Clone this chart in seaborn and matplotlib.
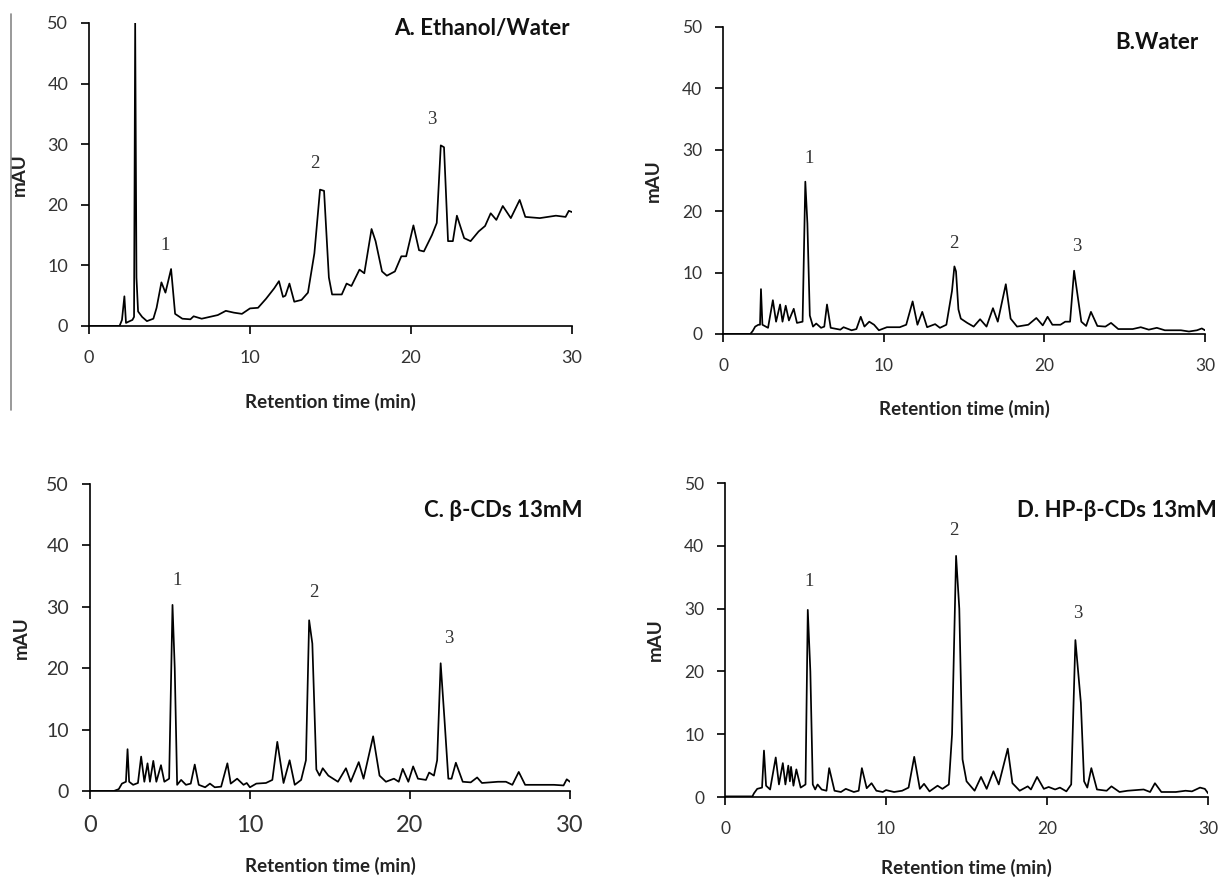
import numpy as np
import pandas as pd
import matplotlib.pyplot as plt
from matplotlib.lines import Line2D
import seaborn as sns

sns.set_style("ticks")
plt.rcParams['font.family'] = ['Lato', 'DejaVu Sans']

# ---- chromatogram traces (time in min, signal in mAU) ----
tA = [0, 1.9, 2.05, 2.2, 2.3, 2.45, 2.7, 2.8, 2.87, 2.95,
      3.05, 3.3, 3.6, 4.0, 4.2, 4.5, 4.75, 5.1, 5.35, 5.8,
      6.3, 6.5, 7.0, 7.5, 8.0, 8.5, 9.0, 9.5, 10.0, 10.5,
      11.0, 11.5, 11.8, 12.05, 12.2, 12.45, 12.75, 13.2, 13.6, 14.0,
      14.35, 14.6, 14.9, 15.1, 15.7, 16.0, 16.3, 16.8, 17.1, 17.55,
      17.8, 18.2, 18.5, 19.0, 19.4, 19.7, 20.15, 20.5, 20.8, 21.3,
      21.6, 21.85, 22.05, 22.3, 22.6, 22.85, 23.3, 23.7, 24.2, 24.6,
      24.95, 25.3, 25.7, 26.2, 26.75, 27.1, 28.0, 29.0, 29.6, 29.8,
      30.0]
vA = [0, 0, 1, 4.9, 0.5, 0.7, 1.0, 1.5, 50, 8,
      2.4, 1.5, 0.8, 1.2, 3.0, 7.2, 5.5, 9.4, 2.0, 1.2,
      1.1, 1.6, 1.2, 1.5, 1.8, 2.5, 2.2, 2.0, 2.9, 3.0,
      4.5, 6.2, 7.4, 4.8, 5.0, 7.0, 4.0, 4.3, 5.5, 12,
      22.5, 22.3, 8, 5.2, 5.2, 7.0, 6.6, 9.3, 8.7, 16,
      14, 9, 8.3, 9.0, 11.5, 11.5, 16.6, 12.5, 12.3, 15,
      17, 29.8, 29.5, 14, 14, 18.2, 14.5, 14, 15.6, 16.5,
      18.6, 17.5, 19.8, 17.8, 20.8, 18, 17.8, 18.2, 18, 19,
      18.8]

tB = [0, 1.7, 1.85, 2.0, 2.2, 2.3, 2.36, 2.45, 2.8, 3.1,
      3.3, 3.55, 3.7, 3.9, 4.1, 4.4, 4.6, 4.95, 5.12, 5.25,
      5.4, 5.6, 5.8, 6.1, 6.3, 6.47, 6.7, 7.3, 7.5, 8.0,
      8.3, 8.57, 8.8, 9.1, 9.4, 9.7, 10.2, 11.0, 11.4, 11.8,
      12.1, 12.4, 12.7, 13.2, 13.5, 13.9, 14.25, 14.4, 14.5, 14.65,
      14.8, 15.2, 15.6, 16.0, 16.4, 16.8, 17.1, 17.6, 17.9, 18.3,
      19.0, 19.5, 19.9, 20.2, 20.5, 21.0, 21.3, 21.6, 21.85, 22.3,
      22.6, 22.9, 23.3, 23.8, 24.15, 24.6, 25.5, 26.0, 26.5, 27.0,
      27.5, 28.5, 29.0, 29.5, 29.8, 30.0]
vB = [0, 0, 0.5, 1.2, 1.5, 1.5, 7.3, 1.5, 1.0, 5.5,
      2.0, 4.8, 2.0, 4.6, 2.2, 4.1, 1.8, 2.0, 24.8, 18,
      3.0, 1.2, 1.7, 1.0, 1.2, 4.8, 1.0, 0.7, 1.1, 0.6,
      0.8, 2.8, 1.2, 2.0, 1.5, 0.6, 1.1, 1.1, 1.5, 5.3,
      1.5, 3.6, 1.1, 1.6, 1.0, 1.5, 7.0, 11.0, 10.2, 4.0,
      2.5, 1.8, 1.2, 2.4, 1.2, 4.2, 2.0, 8.1, 2.5, 1.2,
      1.5, 2.6, 1.4, 2.8, 1.5, 1.5, 2.0, 2.0, 10.3, 2.0,
      1.3, 3.6, 1.3, 1.2, 1.8, 0.8, 0.8, 1.1, 0.7, 1.0,
      0.6, 0.6, 0.4, 0.6, 0.9, 0.6]

tC = [0, 1.5, 1.8, 2.0, 2.25, 2.35, 2.45, 2.7, 3.0, 3.2,
      3.4, 3.6, 3.75, 3.96, 4.15, 4.44, 4.65, 4.95, 5.16, 5.3,
      5.45, 5.7, 6.0, 6.3, 6.55, 6.8, 7.2, 7.5, 7.8, 8.2,
      8.59, 8.8, 9.2, 9.6, 9.8, 10.0, 10.4, 11.0, 11.4, 11.71,
      12.1, 12.48, 12.8, 13.2, 13.5, 13.7, 13.9, 14.15, 14.35, 14.55,
      14.9, 15.5, 16.0, 16.3, 16.8, 17.1, 17.7, 18.1, 18.5, 19.0,
      19.3, 19.55, 19.9, 20.2, 20.5, 21.0, 21.2, 21.5, 21.7, 21.92,
      22.15, 22.4, 22.6, 22.87, 23.3, 23.8, 24.2, 24.5, 25.5, 26.0,
      26.4, 26.8, 27.2, 28.0, 29.0, 29.6, 29.8, 30.0]
vC = [0, 0, 0.3, 1.2, 1.5, 6.8, 1.5, 1.0, 1.3, 5.6,
      1.5, 4.5, 1.5, 4.9, 1.5, 4.2, 1.5, 2.0, 30.3, 20,
      1.0, 1.8, 1.0, 1.2, 4.3, 1.0, 0.6, 1.2, 0.6, 0.7,
      4.5, 1.2, 2.0, 1.0, 1.3, 0.6, 1.2, 1.3, 1.8, 8.0,
      1.3, 5.0, 1.0, 1.8, 5.0, 27.8, 24, 3.5, 2.5, 3.7,
      2.5, 1.5, 3.7, 1.5, 4.7, 2.0, 8.9, 2.5, 1.5, 2.0,
      1.5, 3.6, 1.5, 4.0, 2.0, 1.8, 3.0, 2.5, 5.0, 20.8,
      12, 2.0, 2.0, 4.6, 1.5, 1.4, 2.2, 1.3, 1.5, 1.5,
      1.0, 3.1, 1.0, 1.0, 1.0, 0.9, 1.9, 1.5]

tD = [0, 1.7, 1.8, 2.0, 2.3, 2.42, 2.55, 2.8, 3.15, 3.35,
      3.59, 3.75, 3.93, 4.03, 4.1, 4.25, 4.43, 4.7, 5.0, 5.14,
      5.3, 5.45, 5.6, 5.75, 6.0, 6.3, 6.47, 6.8, 7.2, 7.5,
      8.0, 8.3, 8.5, 8.8, 9.1, 9.4, 9.8, 10.0, 10.5, 11.0,
      11.4, 11.75, 12.1, 12.36, 12.7, 13.2, 13.5, 13.9, 14.1, 14.35,
      14.55, 14.75, 15.0, 15.5, 15.9, 16.25, 16.67, 17.0, 17.56, 17.85,
      18.3, 18.8, 19.0, 19.38, 19.8, 20.1, 20.5, 20.8, 21.2, 21.5,
      21.76, 22.1, 22.3, 22.5, 22.75, 23.1, 23.7, 24.0, 24.5, 25.0,
      26.0, 26.4, 26.7, 27.1, 28.0, 28.6, 29.0, 29.5, 29.8, 30.0]
vD = [0.1, 0.1, 0.6, 1.3, 1.5, 7.4, 1.8, 1.2, 6.3, 2.0,
      5.4, 2.0, 5.0, 2.5, 4.8, 1.8, 4.4, 1.5, 2.0, 29.8,
      20, 2.0, 1.2, 2.0, 1.2, 1.0, 4.6, 1.0, 0.8, 1.3,
      0.8, 1.0, 4.6, 1.4, 2.2, 1.0, 0.8, 1.1, 0.8, 1.0,
      1.5, 6.4, 1.3, 2.1, 0.9, 1.8, 1.3, 2.0, 10, 38.4,
      30, 6, 2.5, 1.0, 3.2, 1.3, 4.1, 2.0, 7.7, 2.2,
      1.0, 1.7, 1.2, 3.2, 1.3, 1.6, 1.2, 1.5, 0.9, 2.0,
      25.0, 15, 2.5, 1.5, 4.6, 1.2, 1.0, 1.7, 0.8, 1.0,
      1.2, 0.8, 2.2, 0.8, 0.8, 1.0, 0.9, 1.5, 1.3, 0.6]

titles = ["A. Ethanol/Water", "B.Water", "C. \u03b2-CDs 13mM", "D. HP-\u03b2-CDs 13mM"]
peak_names = ["1", "2", "3"]
peak_t = [[4.7, 14.0, 21.3], [5.35, 14.35, 22.0], [5.45, 14.0, 22.4], [5.2, 14.2, 21.9]]
peak_y = [[13.2, 26.8, 34.0], [28.5, 14.7, 14.3], [34.3, 32.4, 24.8], [34.3, 42.4, 29.3]]
x_ticks = [0, 10, 20, 30]
y_ticks = [0, 10, 20, 30, 40, 50]

traces = [(tA, vA), (tB, vB), (tC, vC), (tD, vD)]

boxes = [[0.0728, 0.6283, 0.3953, 0.3455],
         [0.5917, 0.6192, 0.3944, 0.3501],
         [0.0736, 0.0981, 0.3928, 0.3501],
         [0.5933, 0.0912, 0.3953, 0.3580]]
title_pos = [(0.466, 0.968), (0.981, 0.952), (0.477, 0.418), (0.996, 0.418)]
xlab_y = [-0.22, -0.215, -0.216, -0.198]
xtick_size = [13, 12.5, 17, 12.5]
ytick_size = [13, 12.5, 14, 12.5]

fig = plt.figure(figsize=(12.22, 8.77), dpi=100)

for i, (t, v) in enumerate(traces):
    ax = fig.add_axes(boxes[i])
    df = pd.DataFrame({"time": t, "mAU": v})
    sns.lineplot(data=df, x="time", y="mAU", ax=ax, color="black", lw=1.25,
                 estimator=None, sort=False)
    ax.set_xlim(0, 30)
    ax.set_ylim(0, 50)
    ax.set_xticks(x_ticks)
    ax.set_yticks(y_ticks)
    sns.despine(ax=ax)
    for s in ["left", "bottom"]:
        ax.spines[s].set_color("black")
        ax.spines[s].set_linewidth(1.2)
    ax.tick_params(axis="x", direction="out", length=6, width=1.2, pad=11,
                   labelsize=xtick_size[i], labelcolor="#333333", color="black")
    ax.tick_params(axis="y", direction="out", length=6, width=1.2, pad=9,
                   labelsize=ytick_size[i], labelcolor="#333333", color="black")
    ax.set_xlabel("Retention time (min)", fontsize=13.5, fontweight="bold", color="#222222")
    ax.set_ylabel("mAU", fontsize=13.5, fontweight="bold", color="#222222")
    ax.xaxis.set_label_coords(0.5, xlab_y[i])
    ax.yaxis.set_label_coords(-0.126, 0.5)
    for name, px, py in zip(peak_names, peak_t[i], peak_y[i]):
        ax.text(px, py, name, ha="center", va="center", fontsize=13.5,
                family="Liberation Serif", color="#333333")
    fig.text(title_pos[i][0], title_pos[i][1], titles[i], ha="right", va="center",
             fontsize=16, fontweight="bold", color="#111111")

# thin grey frame line at the left edge of the upper-left panel
fig.add_artist(Line2D([0.009, 0.009], [0.533, 0.984], color="#888888", lw=1.2))

fig.savefig("out.png", dpi=100)
